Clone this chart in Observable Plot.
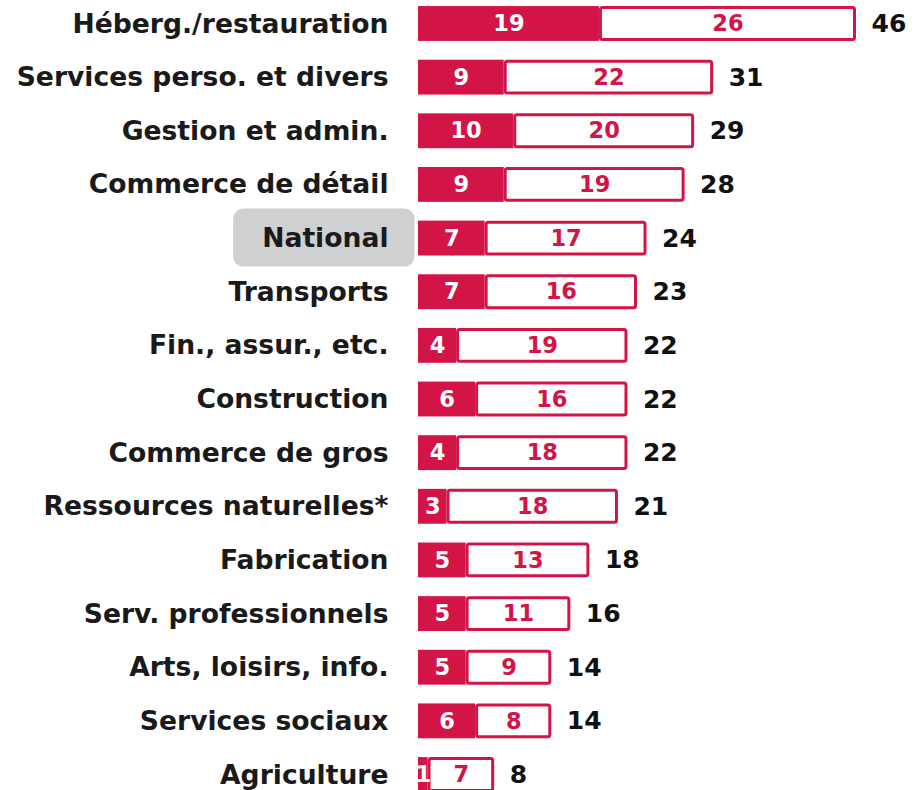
<!DOCTYPE html>
<html>
<head>
<meta charset="utf-8">
<script src="https://cdn.jsdelivr.net/npm/d3@7"></script>
<script src="https://cdn.jsdelivr.net/npm/@observablehq/plot@0.6"></script>
<style>
  html, body { margin: 0; padding: 0; background: #fff; overflow: hidden; }
  #chart svg { display: block; }
</style>
</head>
<body>
<div id="chart"></div>
<script>
const categories = ["Héberg./restauration","Services perso. et divers","Gestion et admin.","Commerce de détail","National","Transports","Fin., assur., etc.","Construction","Commerce de gros","Ressources naturelles*","Fabrication","Serv. professionnels","Arts, loisirs, info.","Services sociaux","Agriculture"];
const filled = [19,9,10,9,7,7,4,6,4,3,5,5,5,6,1];
const outlined = [26,22,20,19,17,16,19,16,18,18,13,11,9,8,7];
const totals = [46,31,29,28,24,23,22,22,22,21,18,16,14,14,8];
const highlight = "National";

const RED = "#d31446";
const FONT = "DejaVu Sans";

const rows = categories.map((c, i) => ({cat: c, a: filled[i], b: outlined[i], t: totals[i]}));

const chart = Plot.plot({
  width: 922,
  height: 798,
  marginLeft: 418,
  marginRight: 66,
  marginTop: 0,
  marginBottom: 0,
  style: {fontFamily: FONT, background: "#fff"},
  x: {domain: [0, 46], axis: null, round: false},
  y: {domain: categories, paddingInner: 0.35, paddingOuter: 0.113, round: false, label: null},
  marks: [
    Plot.axisY({tickSize: 0, tickPadding: 30, fontSize: 26.6, fontWeight: "bold", fill: "#1a1a1a", label: null}),
    Plot.barX(rows, {y: "cat", x1: 0, x2: "a", fill: RED}),
    Plot.barX(rows, {y: "cat", x1: "a", x2: "t", fill: "#fff", stroke: RED, strokeWidth: 3, inset: 1.5, rx: 2}),
    Plot.text(rows, {y: "cat", x: d => d.a / 2, text: d => String(d.a), fill: "#fff", fontSize: 22.5, fontWeight: "bold"}),
    Plot.text(rows, {y: "cat", x: d => (d.a + d.t) / 2, text: d => String(d.b), fill: RED, fontSize: 22.5, fontWeight: "bold"}),
    Plot.text(rows, {y: "cat", x: "t", text: d => String(d.t), dx: 15, textAnchor: "start", fill: "#111", fontSize: 25, fontWeight: "bold"})
  ]
});
document.getElementById("chart").appendChild(chart);

// gray rounded box behind the highlighted category label
d3.select(chart).selectAll("text").filter(function() { return this.textContent === highlight; }).each(function() {
  const bb = this.getBBox();
  const rect = document.createElementNS("http://www.w3.org/2000/svg", "rect");
  const tr = this.getAttribute("transform");
  rect.setAttribute("x", bb.x - 29);
  rect.setAttribute("y", bb.y + bb.height / 2 - 29);
  rect.setAttribute("width", bb.width + 55);
  rect.setAttribute("height", 58);
  rect.setAttribute("rx", 10);
  rect.setAttribute("fill", "#cfd0d2");
  if (tr) rect.setAttribute("transform", tr);
  this.parentNode.insertBefore(rect, this);
});
</script>
</body>
</html>
